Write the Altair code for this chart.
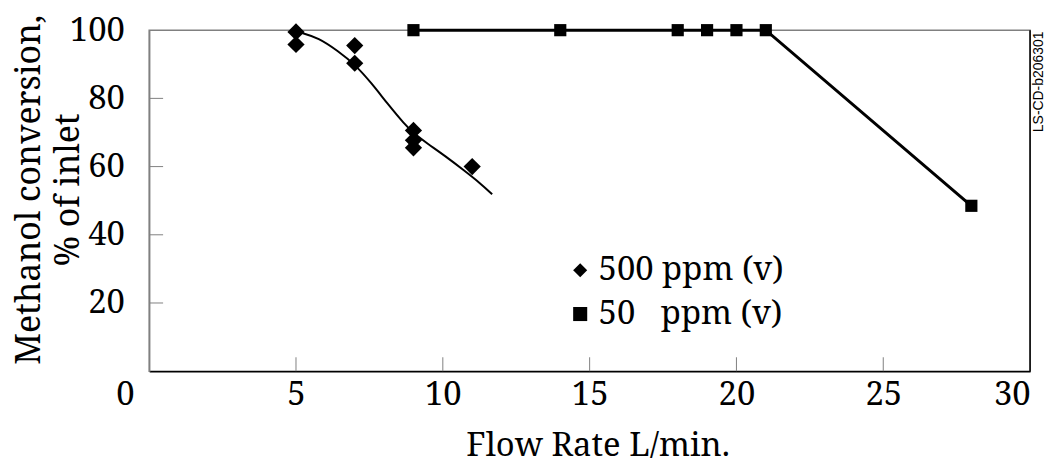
import altair as alt
import pandas as pd

# 500 ppm (v) measurements
d500_x = [5, 5, 7, 7, 9, 9, 9, 11]
d500_y = [99.5, 95.8, 95.5, 90.3, 70.6, 67.7, 65.5, 60.0]
# fitted curve for 500 ppm (v)
curve_x = [5.19, 5.76, 6.43, 7.0, 7.56, 8.13, 8.69, 9.03, 9.48, 10.05, 10.72, 11.29, 11.68]
curve_y = [99.2, 97.8, 93.9, 90.0, 84.6, 78.3, 72.5, 69.6, 66.7, 63.3, 58.9, 55.0, 51.9]
# 50 ppm (v) measurements
d50_x = [9, 14, 18, 19, 20, 21, 28]
d50_y = [100, 100, 100, 100, 100, 100, 48.5]

series_names = ["500 ppm (v)", "50\u00a0\u00a0\u00a0ppm (v)"]
x_ticks = [5, 10, 15, 20, 25, 30]
y_ticks = [20, 40, 60, 80, 100]
inner_x_ticks = [5, 10, 15, 20, 25]
inner_y_ticks = [20, 40, 60, 80]

SERIF = "Noto Serif"
FS = 33
W, H = 886, 343

pts = pd.DataFrame({
    "x": d500_x + d50_x,
    "y": d500_y + d50_y,
    "s": [series_names[0]] * len(d500_x) + [series_names[1]] * len(d50_x),
})
curve = pd.DataFrame({"x": curve_x, "y": curve_y})
line50 = pd.DataFrame({"x": d50_x, "y": d50_y})

xs = alt.Scale(domain=[0, 30], nice=False, zero=False)
ys = alt.Scale(domain=[0, 100], nice=False, zero=False)

xaxis = alt.Axis(values=x_ticks, grid=False, ticks=False, tickSize=0, labelPadding=7,
                 labelFont=SERIF, labelFontSize=FS, labelColor="black",
                 domainColor="black", domainWidth=1.5,
                 title="Flow Rate L/min.", titleFont=SERIF, titleFontSize=FS,
                 titleFontWeight="normal", titleColor="black",
                 titleX=451, titleY=85, titleBaseline="alphabetic", titleAlign="center")
yaxis = alt.Axis(values=y_ticks, grid=False, ticks=False, tickSize=0, labelPadding=25,
                 labelFont=SERIF, labelFontSize=FS, labelColor="black",
                 labelBaseline="middle",
                 domainColor="#808080", domainWidth=1.5,
                 title=["Methanol conversion,", "% of inlet"], titleFont=SERIF,
                 titleFontSize=34, titleFontWeight="normal", titleColor="black",
                 titleLineHeight=39, titleAngle=270, titleAlign="center",
                 titleBaseline="top", titleX=-137, titleY=160)

base_pts = alt.Chart(pts).mark_point(filled=True, opacity=1, strokeWidth=0).encode(
    x=alt.X("x:Q", scale=xs, axis=xaxis),
    y=alt.Y("y:Q", scale=ys, axis=yaxis),
    shape=alt.Shape("s:N", scale=alt.Scale(domain=series_names, range=["diamond", "square"]),
                    legend=alt.Legend(title=None, orient="none", legendX=417, legendY=225,
                                      labelFont=SERIF, labelFontSize=FS, labelColor="black",
                                      labelLimit=0,
                                      symbolSize=200, symbolFillColor="black",
                                      symbolStrokeColor="black", symbolStrokeWidth=0,
                                      labelOffset=2, rowPadding=10, padding=0)),
    size=alt.condition(alt.datum.s == series_names[0], alt.value(300), alt.value(150)),
    color=alt.value("black"),
)

curve_line = alt.Chart(curve).mark_line(color="black", strokeWidth=2, interpolate="basis").encode(
    x=alt.X("x:Q", scale=xs), y=alt.Y("y:Q", scale=ys))
line_50 = alt.Chart(line50).mark_line(color="black", strokeWidth=3).encode(
    x=alt.X("x:Q", scale=xs), y=alt.Y("y:Q", scale=ys))

right_border = alt.Chart(pd.DataFrame({"x": [30]})).mark_rule(color="black", strokeWidth=1.5).encode(
    x=alt.X("x:Q", scale=xs), y=alt.value(0), y2=alt.value(H))

yt = alt.Chart(pd.DataFrame({"y": inner_y_ticks})).mark_rule(color="#808080", strokeWidth=1).encode(
    y=alt.Y("y:Q", scale=ys), x=alt.value(0), x2=alt.value(14))
xt = alt.Chart(pd.DataFrame({"x": inner_x_ticks})).mark_rule(color="#808080", strokeWidth=1).encode(
    x=alt.X("x:Q", scale=xs), y=alt.value(H), y2=alt.value(H - 14))

zero_lbl = alt.Chart(pd.DataFrame({"x": [0]})).mark_text(
    font=SERIF, fontSize=FS, color="black", align="center", baseline="middle", dx=-24, dy=24
).encode(x=alt.X("x:Q", scale=xs), y=alt.value(H), text=alt.value("0"))

code_lbl = alt.Chart(pd.DataFrame({"x": [30]})).mark_text(
    font="Liberation Sans", fontSize=14, color="black", angle=270, align="center",
    baseline="middle"
).encode(x=alt.value(W + 9), y=alt.value(52), text=alt.value("LS-CD-b206301"))

chart = alt.layer(right_border, yt, xt, line_50, curve_line, base_pts, zero_lbl, code_lbl).properties(
    width=W, height=H, autosize="none",
    padding={"left": 142, "top": 21, "right": 14, "bottom": 86},
    background="white",
).configure_view(stroke="#808080", strokeWidth=1.5)

chart.save("out.html", embed_options={"renderer": "svg", "actions": False})
